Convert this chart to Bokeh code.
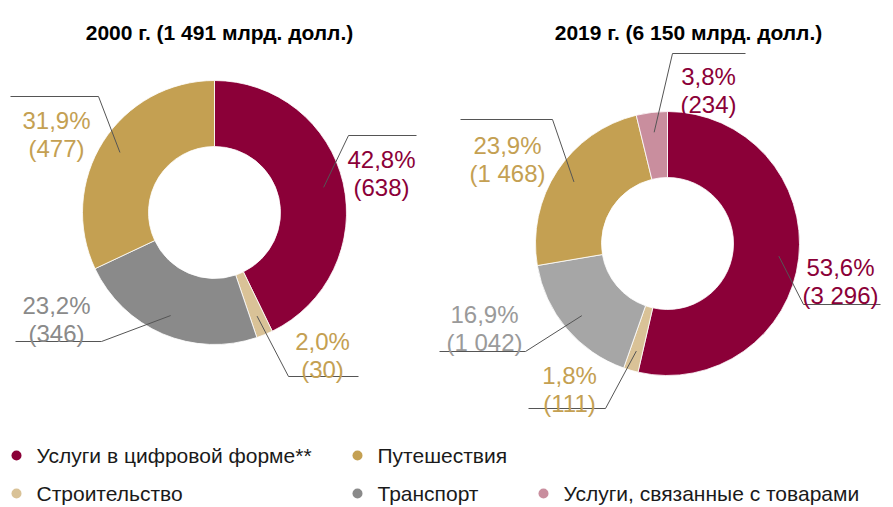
import math
from bokeh.plotting import figure
from bokeh.models import Range1d, ColumnDataSource
from bokeh.core.properties import value
from bokeh.embed import file_html
from bokeh.resources import INLINE

# ---------------- data ----------------
categories = ["Услуги в цифровой форме**", "Строительство", "Транспорт",
              "Путешествия", "Услуги, связанные с товарами"]
titles = ["2000 г. (1 491 млрд. долл.)", "2019 г. (6 150 млрд. долл.)"]
values_2000 = [638, 30, 346, 477]
pct_2000 = [42.8, 2.0, 23.2, 31.9]
values_2019 = [3296, 111, 1042, 1468, 234]
pct_2019 = [53.6, 1.8, 16.9, 23.9, 3.8]

# ---------------- styles ----------------
FONT = "Liberation Sans"
seg_colors_2000 = ["#8B0038", "#D9C297", "#8A8A8A", "#C4A052"]
seg_colors_2019 = ["#8B0038", "#D9C297", "#A6A6A6", "#C4A052", "#C98E9E"]
lab_colors_2000 = ["#8B0038", "#C4A052", "#8A8A8A", "#C4A052"]
lab_colors_2019 = ["#8B0038", "#C4A052", "#9A9A9A", "#C4A052", "#8B0038"]
legend_colors = ["#8B0038", "#D9C297", "#8A8A8A", "#C4A052", "#C98E9E"]

W, H = 893, 507
p = figure(width=W, height=H, x_range=Range1d(0, W), y_range=Range1d(-H, 0),
           output_backend="svg", toolbar_location=None,
           x_axis_type=None, y_axis_type=None, min_border=0)
p.grid.visible = False
p.outline_line_color = None
p.background_fill_color = "white"
p.border_fill_color = "white"

# layout: centers (px), radii
charts = [
    dict(cx=214, cy=212, vals=values_2000, pcts=pct_2000, seg=seg_colors_2000, lab=lab_colors_2000,
         title_x=219,
         # per slice: label center x, baseline line1, baseline line2, elbow x, elbow y, end x
         labels=[(381, 159, 187, 348, 135, 416),
                 (322, 341, 369, 288, 376, 358),
                 (56, 305, 333, 101, 341, 15),
                 (56, 120, 148, 98, 96, 10)]),
    dict(cx=667, cy=243, vals=values_2019, pcts=pct_2019, seg=seg_colors_2019, lab=lab_colors_2019,
         title_x=688,
         labels=[(840, 267, 295, 803, 304, 880),
                 (569, 375, 403, 605, 408, 528),
                 (484, 314, 342, 525, 351, 439),
                 (507, 145, 173, 552, 119, 460),
                 (708, 76, 104, 672, 53, 745)]),
]
R_OUT, R_IN, R_LEAD = 132, 66, 112


def fmt_pct(v):
    return f"{v:.1f}".replace(".", ",") + "%"


def fmt_val(v):
    return "(" + f"{v:,}".replace(",", " ") + ")"


for ch in charts:
    vals = ch["vals"]
    tot = float(sum(vals))
    f0s, f1s = [], []
    acc = 0.0
    for v in vals:
        f0s.append(acc / tot)
        acc += v
        f1s.append(acc / tot)
    src = ColumnDataSource(dict(
        x=[ch["cx"]] * len(vals), y=[-ch["cy"]] * len(vals),
        start=[math.pi / 2 - 2 * math.pi * f1 for f1 in f1s],
        end=[math.pi / 2 - 2 * math.pi * f0 for f0 in f0s],
        color=ch["seg"]))
    p.annular_wedge(x="x", y="y", inner_radius=R_IN, outer_radius=R_OUT,
                    start_angle="start", end_angle="end", direction="anticlock",
                    fill_color="color", line_color="white", line_width=0.8, source=src)

    xs, ys, tx, ty, tt, tc = [], [], [], [], [], []
    for i, v in enumerate(vals):
        mid = (f0s[i] + f1s[i]) / 2 * 2 * math.pi
        sx = ch["cx"] + R_LEAD * math.sin(mid)
        sy = ch["cy"] - R_LEAD * math.cos(mid)
        lx, b1, b2, ex, ey, endx = ch["labels"][i]
        xs.append([sx, ex, endx])
        ys.append([-sy, -ey, -ey])
        tx += [lx, lx]
        ty += [-b1, -b2]
        tt += [fmt_pct(ch["pcts"][i]), fmt_val(v)]
        tc += [ch["lab"][i], ch["lab"][i]]
    p.multi_line(xs=xs, ys=ys, line_color="#555555", line_width=1)
    p.text(x=tx, y=ty, text=tt, text_color=tc, text_align="center", text_baseline="alphabetic",
           text_font=value(FONT), text_font_size="24px")

# titles
p.text(x=[c["title_x"] for c in charts], y=[-32, -32], text=titles, text_align="center",
       text_baseline="alphabetic", text_font=value(FONT), text_font_size="21px",
       text_font_style="bold", text_color="#000000")

# legend (order as in reference)
leg_order = [0, 3, 1, 2, 4]
leg_pos = [(16, 455), (357, 455), (16, 493), (357, 493), (543, 493)]
mx, my, lt, lc = [], [], [], []
for k, idx in enumerate(leg_order):
    x0, y0 = leg_pos[k]
    mx.append(x0)
    my.append(-y0)
    lt.append(categories[idx])
    lc.append(legend_colors[idx])
p.scatter(x=mx, y=my, size=10, marker="circle", fill_color=lc, line_color=None)
p.text(x=[x + 20 for x in mx], y=my, text=lt, text_align="left", text_baseline="middle",
       text_font=value(FONT), text_font_size="21px", text_color="#1a1a1a")

open("out.html", "w").write(file_html(p, INLINE))
